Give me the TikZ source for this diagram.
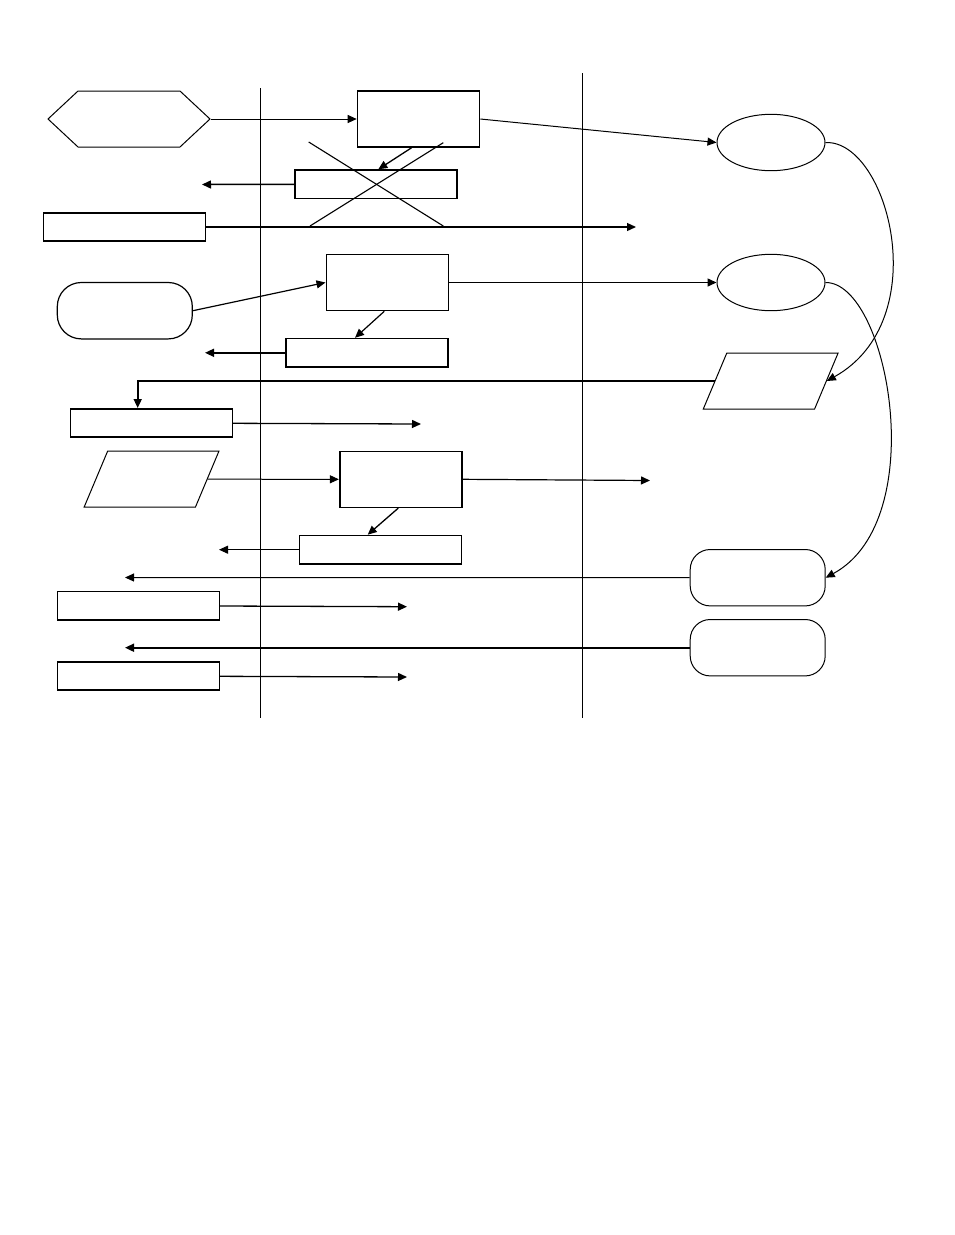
\documentclass[tikz,border=0pt]{standalone}
\usetikzlibrary{arrows.meta,shapes.geometric,shapes.symbols}
\tikzstyle{every path}=[line width=1pt]
\tikzstyle{proc}=[draw, line width=1.6pt, minimum width=122pt, minimum height=56pt, inner sep=0pt]
\tikzstyle{bar}=[draw, line width=1.6pt, minimum width=162pt, minimum height=28.4pt, inner sep=0pt]
\tikzstyle{term}=[draw, line width=1pt, rounded corners=20pt, minimum width=135pt, minimum height=56.4pt, inner sep=0pt]
\tikzstyle{store}=[draw, line width=1pt, ellipse, minimum width=108pt, minimum height=56.4pt, inner sep=0pt]
\tikzstyle{data}=[draw, line width=1pt, xslant=0.42, minimum width=111.3pt, minimum height=56pt, inner sep=0pt]
\tikzstyle{prep}=[draw, line width=1pt, signal, signal to=east and west, signal pointer angle=86, minimum width=162pt, minimum height=56pt, inner sep=0pt]
\tikzstyle{flow}=[-{Triangle[length=9pt,width=8pt]}, line width=1.1pt]
\tikzstyle{heavyflow}=[flow, line width=1.7pt]

\begin{document}
\begin{tikzpicture}[x=1pt, y=-1pt]
            \useasboundingbox (0, 0) rectangle (954, 1235);

            % swim lanes
            \draw (260, 88) -- (260, 718);
            \draw (582, 73) -- (582, 718);

            \node[prep] (start) at (129, 119) {};
            \node[proc] (check) at (418.5, 119) {};
            \node[store] (fileA) at (771, 142.5) {};
            \node[bar] (cancel) at (375.7, 184.3) {};
            \node[bar] (request) at (124.5, 227) {};
            \node[term, rounded corners=24pt, line width=1.2pt] (order) at (124.8, 310.7) {};
            \node[proc] (enter) at (387.3, 282.5) {};
            \node[store] (fileB) at (771, 282.5) {};
            \node[bar] (confirm) at (367, 352.8) {};
            \node[data] (notice) at (770.7, 381) {};
            \node[bar] (reply) at (151.3, 423) {};
            \node[data] (slip) at (151.5, 479.2) {};
            \node[proc] (post) at (400.7, 479.3) {};
            \node[bar] (receipt) at (380.5, 549.7) {};
            \node[term] (bill) at (757.7, 577.7) {};
            \node[bar] (payA) at (138.3, 605.7) {};
            \node[term] (close) at (757.7, 647.7) {};
            \node[bar] (payB) at (138.3, 676) {};

            \coordinate (cancelOut) at (202, 184.5);
            \coordinate (requestOut) at (636, 227);
            \coordinate (confirmOut) at (205, 352.8);
            \coordinate (replyOut) at (421, 424);
            \coordinate (postOut) at (650, 480.5);
            \coordinate (receiptOut) at (219, 549.7);
            \coordinate (billOut) at (125, 577.5);
            \coordinate (payAOut) at (407, 606.7);
            \coordinate (closeOut) at (125, 647.7);
            \coordinate (payBOut) at (407, 677);

            \draw[flow, line width=1pt] (start) -- (check);
            \draw[flow, line width=1pt] (check.east) -- (fileA.west);
            \draw[flow, line width=1.3pt] ([xshift=-7pt]check.south) -- ([xshift=2.6pt]cancel.north);
            \draw[flow, line width=1.5pt] (cancel) -- (cancelOut);
            \draw[line width=1.1pt] (308.7, 142) -- (443.3, 226);
            \draw[line width=1.1pt] (443.3, 142.7) -- (310, 226);
            \draw[flow, line width=1.3pt] (request) -- (requestOut);

            \draw[flow, line width=1.2pt] (order.east) -- (enter.west);
            \draw[heavyflow, line width=1.5pt] (enter) -- (fileB);
            \draw[flow, line width=1.2pt] ([xshift=-3pt]enter.south) -- ([xshift=-12pt]confirm.north);
            \draw[flow, line width=1.5pt] (confirm) -- (confirmOut);

            \draw[heavyflow] (notice.west) -| ([xshift=-13.6pt]reply.north);
            \draw[flow, line width=1.3pt] (reply) -- (replyOut);
            \draw[flow, line width=1pt] (slip.east) -- (post.west);
            \draw[flow, line width=1.2pt] (post.east) -- (postOut);
            \draw[flow, line width=1.3pt] ([xshift=-2.4pt]post.south) -- ([xshift=-12.8pt]receipt.north);
            \draw[flow, line width=1pt] (receipt) -- (receiptOut);

            \draw[flow, line width=1pt] (bill.west) -- (billOut);
            \draw[flow, line width=1.3pt] (payA) -- (payAOut);
            \draw[heavyflow] (close.west) -- (closeOut);
            \draw[flow, line width=1.3pt] (payB) -- (payBOut);

            % file loops
            \draw[flow, line width=1pt] (fileA.east) .. controls (888, 140) and (936, 320) .. (notice.east);
            \draw[flow, line width=1pt] (fileB.east) .. controls (888, 282) and (932, 520) .. (bill.east);
        \end{tikzpicture}
\end{document}
